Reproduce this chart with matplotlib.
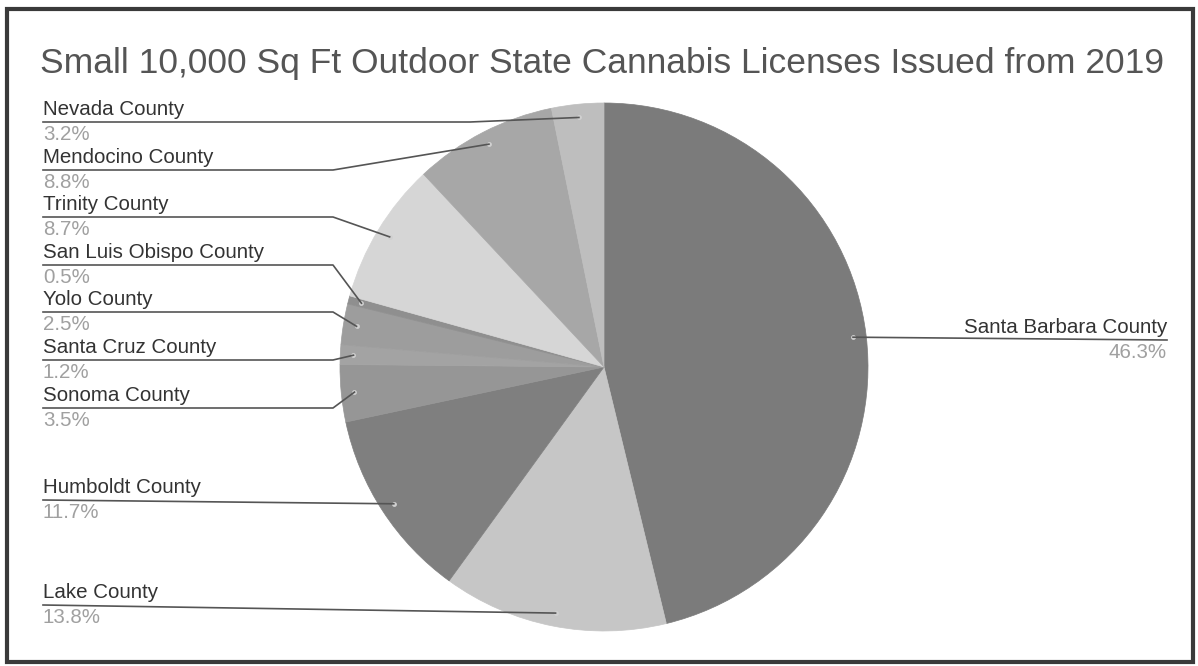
import numpy as np
import matplotlib.pyplot as plt
from matplotlib.patches import Rectangle

plt.rcParams['font.family'] = ['Liberation Sans', 'DejaVu Sans']

counties = ['Santa Barbara County', 'Lake County', 'Humboldt County', 'Sonoma County',
            'Santa Cruz County', 'Yolo County', 'San Luis Obispo County', 'Trinity County',
            'Mendocino County', 'Nevada County']
shares = [46.3, 13.8, 11.7, 3.5, 1.2, 2.5, 0.5, 8.7, 8.8, 3.2]
pct_labels = ['46.3%', '13.8%', '11.7%', '3.5%', '1.2%', '2.5%', '0.5%', '8.7%', '8.8%', '3.2%']
grays = ['#7b7b7b', '#c6c6c6', '#7f7f7f', '#969696', '#a3a3a3', '#9d9d9d', '#8f8f8f',
         '#d6d6d6', '#a7a7a7', '#bebebe']

# label layout (pixel rows of the underline, and where the leader bends)
line_y = [340, 605, 500, 408, 360, 312, 265, 217, 170, 122]
bend_x = [None, None, None, 333, 333, 333, 333, 333, 333, 470]

W, H = 1198, 666
fig = plt.figure(figsize=(W / 100, H / 100), dpi=100)
ax = fig.add_axes([0, 0, 1, 1])

cx, cy, r = 604, H - 367, 264
wedges, _ = ax.pie(shares, colors=grays, startangle=90, counterclock=False,
                   center=(cx, cy), radius=r, frame=True,
                   wedgeprops=dict(linewidth=0.5))
for w, c in zip(wedges, grays):
    w.set_edgecolor(c)
ax.set_xlim(0, W)
ax.set_ylim(0, H)
ax.set_aspect('equal')
ax.axis('off')

lc = '#555555'
fs = 14.8
for w, name, pct, ly, bx in zip(wedges, counties, pct_labels, line_y, bend_x):
    th = np.deg2rad((w.theta1 + w.theta2) / 2)
    px, py = cx + 0.95 * r * np.cos(th), cy + 0.95 * r * np.sin(th)
    Y = H - ly
    ax.plot(px, py, 'o', ms=3.5, color='#d0d0d0', mec='none')
    if np.cos(th) > 0:
        ax.plot([px, 1167], [py, Y], color=lc, lw=1.2)
        ax.text(1167, Y + 3, name, ha='right', va='bottom', fontsize=fs, color='#333333')
        ax.text(1167, Y - 3, pct, ha='right', va='top', fontsize=fs, color='#a0a0a0')
    else:
        if bx is None:
            ax.plot([43, px], [Y, py], color=lc, lw=1.2)
        else:
            ax.plot([43, bx, px], [Y, Y, py], color=lc, lw=1.2)
        ax.text(43, Y + 3, name, ha='left', va='bottom', fontsize=fs, color='#333333')
        ax.text(43, Y - 3, pct, ha='left', va='top', fontsize=fs, color='#a0a0a0')

ax.text(40, H - 63, 'Small 10,000 Sq Ft Outdoor State Cannabis Licenses Issued from 2019',
        ha='left', va='center', fontsize=25.5, color='#555555')

ax.add_patch(Rectangle((7, H - 662), 1186, 653, fill=False, lw=3, ec='#3a3a3a'))

fig.savefig('out.png', dpi=100)
